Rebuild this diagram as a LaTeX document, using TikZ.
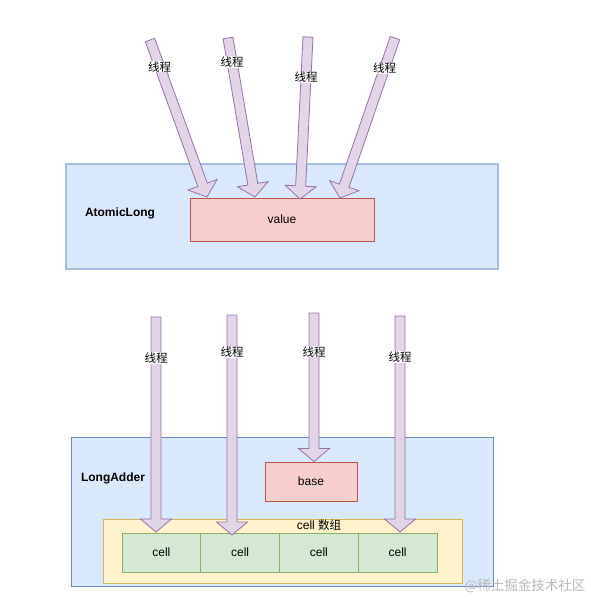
\documentclass[tikz,border=0pt]{standalone}
\usepackage{fontspec}
\setmainfont{Liberation Sans}
\newfontfamily\cjk{Noto Sans CJK SC}
\usetikzlibrary{calc}

\definecolor{bluefill}{HTML}{DAE8FC}
\definecolor{blueline}{HTML}{6C8EBF}
\definecolor{bluelight}{HTML}{A8BDDF}
\definecolor{redfill}{HTML}{F8CECC}
\definecolor{redline}{HTML}{B85450}
\definecolor{yellowfill}{HTML}{FFF2CC}
\definecolor{yellowline}{HTML}{D6B656}
\definecolor{greenfill}{HTML}{D5E8D4}
\definecolor{greenline}{HTML}{82B366}
\definecolor{purplefill}{HTML}{E1D5E7}
\definecolor{purpleline}{HTML}{9673A6}

\tikzset{
  box/.style={rectangle, draw, line width=1pt, inner sep=0pt, font=\fontsize{12}{14}\selectfont},
  classbox/.style={box, fill=bluefill, draw=blueline},
  valuebox/.style={box, fill=redfill, draw=redline},
  arraybox/.style={box, fill=yellowfill, draw=yellowline},
  cellbox/.style={box, fill=greenfill, draw=greenline, minimum width=78.75pt, minimum height=39pt},
  classname/.style={font=\fontsize{12}{14}\selectfont\bfseries},
  thread/.style={fill=purplefill, draw=purpleline, line width=0.8pt, line join=miter},
  threadlabel/.style={fill=white, inner sep=0.5pt, font=\cjk\fontsize{11.5}{13}\selectfont},
}

% wide arrow from #1 to #2, label at #3
\newcommand{\threadarrow}[3]{%
  \coordinate (#1hb) at ($(#2)!13pt!(#1)$);
  \filldraw[thread] ($(#1)!5pt!90:(#2)$) -- ($(#1hb)!5pt!90:(#2)$) -- ($(#1hb)!15.5pt!90:(#2)$)
    -- (#2) -- ($(#1hb)!15.5pt!-90:(#2)$) -- ($(#1hb)!5pt!-90:(#2)$) -- ($(#1)!5pt!-90:(#2)$) -- cycle;
  \node[threadlabel] (#1lbl) at ($(#1)!#3!(#2)$) {线程};
}

\begin{document}
\begin{tikzpicture}[x=1pt, y=-1pt]
    \useasboundingbox (0, 0) rectangle (590, 610);

    % AtomicLong
    \node[classbox, draw=bluelight, line width=1.5pt, minimum width=432pt, minimum height=105pt] (atomic) at (282, 216.5) {};
    \node[classname] (atomicname) at (120, 213) {AtomicLong};
    \node[valuebox, minimum width=184pt, minimum height=43pt] (value) at (282, 219.5) {value};

    % LongAdder
    \node[classbox, minimum width=422pt, minimum height=149pt] (adder) at (282, 511.5) {};
    \node[classname] (addername) at (113, 478) {LongAdder};
    \node[valuebox, minimum width=92pt, minimum height=39pt] (base) at (311, 481.5) {base};
    \node[arraybox, minimum width=359pt, minimum height=64pt] (cells) at (282.5, 551) {};
    \node[font=\fontsize{12}{14}\selectfont] (cellsname) at (319, 525) {cell {\cjk\fontsize{11.5}{13}\selectfont 数组}};
    \foreach \i in {1,...,4}
        \node[cellbox] (cell\i) at ({161.4 + 78.75*(\i-1)}, 552.5) {cell};

    % threads -> value
    \coordinate (ta) at (150, 40);  \coordinate (ha) at (207, 197);
    \coordinate (tb) at (228, 38);  \coordinate (hb) at (255, 197);
    \coordinate (tc) at (308, 37);  \coordinate (hc) at (300, 199);
    \coordinate (td) at (395, 38);  \coordinate (hd) at (340, 198);
    \threadarrow{ta}{ha}{0.17}
    \threadarrow{tb}{hb}{0.15}
    \threadarrow{tc}{hc}{0.25}
    \threadarrow{td}{hd}{0.19}

    % threads -> cells / base
    \coordinate (te) at (156, 317); \coordinate (he) at (156, 532);
    \coordinate (tf) at (232, 315); \coordinate (hf) at (232, 535);
    \coordinate (tg) at (314, 313); \coordinate (hg) at (base.north -| tg);
    \coordinate (th) at (400, 316); \coordinate (hh) at (400, 532);
    \threadarrow{te}{he}{0.19}
    \threadarrow{tf}{hf}{0.17}
    \threadarrow{tg}{hg}{0.26}
    \threadarrow{th}{hh}{0.19}

    % watermark
    \node[anchor=west, text=black!28, font=\cjk\fontsize{13.5}{15}\selectfont] (mark) at (461, 586) {@稀土掘金技术社区};
\end{tikzpicture}
\end{document}
